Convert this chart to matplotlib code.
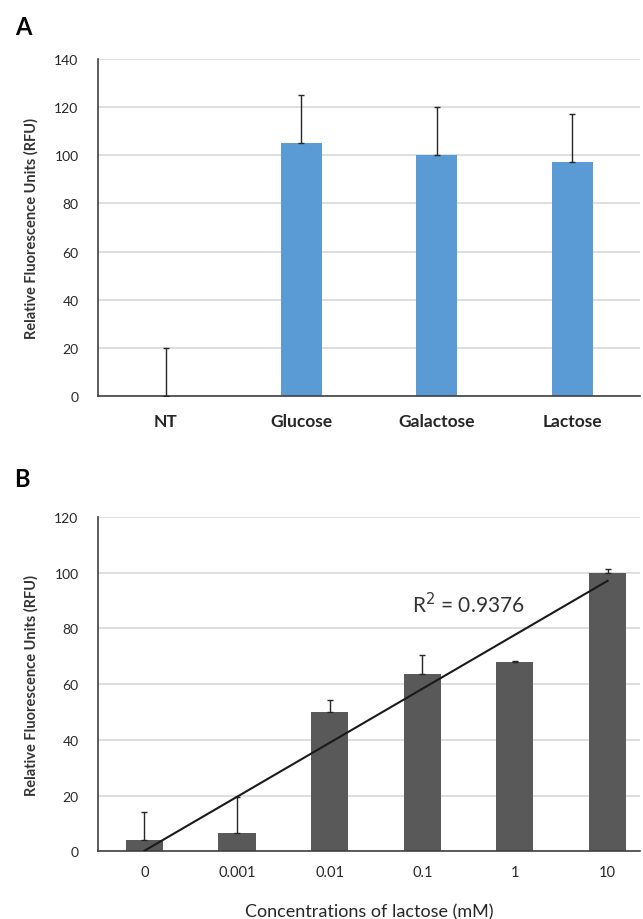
import numpy as np
import matplotlib
matplotlib.use("Agg")
import matplotlib.pyplot as plt

plt.rcParams['font.family'] = ['Lato', 'DejaVu Sans']

# Panel A data
cats_a = ["NT", "Glucose", "Galactose", "Lactose"]
vals_a = [0, 105, 100, 97]
err_a = [20, 20, 20, 20]
yticks_a = [0, 20, 40, 60, 80, 100, 120, 140]

# Panel B data
cats_b = ["0", "0.001", "0.01", "0.1", "1", "10"]
vals_b = [4, 6.5, 50, 63.5, 68, 100]
err_b = [10, 13, 4.5, 7, 0.5, 1.5]
yticks_b = [0, 20, 40, 60, 80, 100, 120]
r2_text = "R$^2$ = 0.9376"

TXT = "#262626"

fig = plt.figure(figsize=(6.43, 9.2), dpi=100)

def style(ax, yticks):
    ax.set_yticks(yticks)
    ax.set_ylim(yticks[0], yticks[-1])
    ax.yaxis.grid(True, color="#d9d9d9", linewidth=1.2)
    ax.set_axisbelow(True)
    for s in ["top", "right"]:
        ax.spines[s].set_visible(False)
    ax.spines["left"].set_color("#404040")
    ax.spines["bottom"].set_color("#404040")
    ax.spines["left"].set_linewidth(1.2)
    ax.spines["bottom"].set_linewidth(1.2)
    ax.tick_params(axis="both", length=0, colors=TXT)
    ax.tick_params(axis="y", labelsize=10, pad=14)

# Panel A
axA = fig.add_axes([0.1524, 0.5685, 0.843, 0.3663])
xa = np.arange(len(cats_a))
axA.bar(xa, vals_a, width=0.3, color="#5b9bd5", zorder=2)
axA.errorbar(xa, vals_a, yerr=[np.zeros(len(err_a)), err_a], fmt="none",
             ecolor="#262626", elinewidth=1.0, capsize=2.5, capthick=1.0, zorder=3)
axA.set_xlim(-0.5, 3.5)
axA.set_xticks(xa)
axA.set_xticklabels(cats_a, fontsize=12.5, fontweight="bold", color="#333333")
axA.tick_params(axis="x", pad=12)
style(axA, yticks_a)
axA.set_ylabel("Relative Fluorescence Units (RFU)", fontsize=10.5, fontweight="bold",
               color="#333333", labelpad=11)
fig.text(0.036, 0.970, "A", fontsize=17, fontweight="bold", ha="center", va="center")

# Panel B
axB = fig.add_axes([0.1524, 0.0734, 0.843, 0.3636])
xb = np.arange(len(cats_b))
axB.bar(xb, vals_b, width=0.4, color="#595959", zorder=2)
axB.errorbar(xb, vals_b, yerr=[np.zeros(len(err_b)), err_b], fmt="none",
             ecolor="#262626", elinewidth=1.0, capsize=2.5, capthick=1.0, zorder=3)
coef = np.polyfit(xb, vals_b, 1)
axB.plot(xb[[0, -1]], np.polyval(coef, xb[[0, -1]]), color="#1a1a1a", linewidth=1.5, zorder=4)
axB.text(3.5, 89, r2_text, fontsize=15, color="#333333", ha="center", va="center")
axB.set_xlim(-0.5, 5.35)
axB.set_xticks(xb)
axB.set_xticklabels(cats_b, fontsize=10.5, color=TXT)
axB.tick_params(axis="x", pad=10)
style(axB, yticks_b)
axB.set_ylabel("Relative Fluorescence Units (RFU)", fontsize=10.5, fontweight="bold",
               color="#333333", labelpad=11)
axB.set_xlabel("Concentrations of lactose (mM)", fontsize=13, color=TXT, labelpad=17)
fig.text(0.034, 0.479, "B", fontsize=17, fontweight="bold", ha="center", va="center")

fig.savefig("out.png", dpi=100)
